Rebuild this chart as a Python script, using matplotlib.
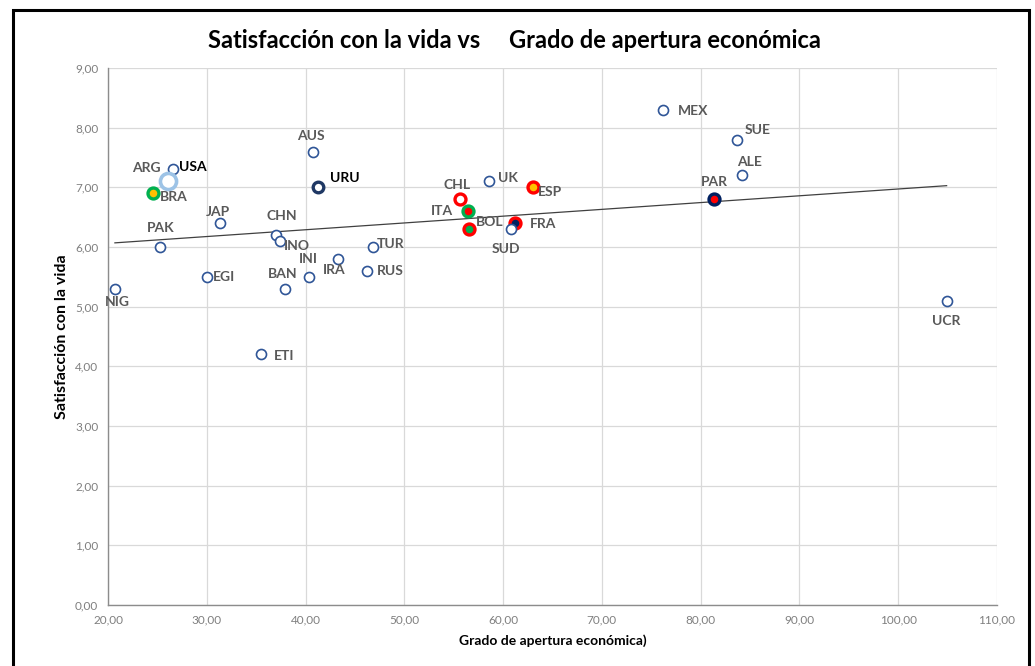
import matplotlib
matplotlib.use("Agg")
import matplotlib.pyplot as plt
from matplotlib.patches import Rectangle
from matplotlib.ticker import FuncFormatter, MultipleLocator
import numpy as np

# ---------------- data ----------------
countries = ["NIG", "PAK", "EGI", "JAP", "USA", "ARG", "BRA", "AUS", "URU", "CHN",
             "INO", "ETI", "BAN", "INI", "IRA", "TUR", "RUS", "CHL", "ITA", "BOL",
             "UK", "ESP", "FRA", "SUD", "MEX", "SUE", "ALE", "PAR", "UCR"]
apertura = [20.7, 25.3, 30.0, 31.3, 26.6, 26.1, 24.6, 40.8, 41.3, 37.0,
            37.4, 35.5, 37.9, 40.3, 43.3, 46.8, 46.2, 55.6, 56.4, 56.5,
            58.6, 63.0, 61.2, 60.8, 76.2, 83.7, 84.2, 81.3, 104.9]
satisfaccion = [5.3, 6.0, 5.5, 6.4, 7.3, 7.1, 6.9, 7.6, 7.0, 6.2,
                6.1, 4.2, 5.3, 5.5, 5.8, 6.0, 5.6, 6.8, 6.6, 6.3,
                7.1, 7.0, 6.4, 6.3, 8.3, 7.8, 7.2, 6.8, 5.1]

title = "Satisfacción con la vida vs     Grado de apertura económica"
xlabel = "Grado de apertura económica)"
ylabel = "Satisfacción con la vida"

# ---------------- styles ----------------
BLUE = "#2f5597"
default_style = dict(s=52, facecolor="white", edgecolor=BLUE, linewidth=1.2)
special_style = {
    "ARG": dict(s=135, facecolor="white", edgecolor="#9dc3e6", linewidth=2.6),
    "BRA": dict(s=62, facecolor="#ffc000", edgecolor="#00b050", linewidth=2.4),
    "URU": dict(s=58, facecolor="white", edgecolor="#1f3864", linewidth=2.4),
    "CHL": dict(s=62, facecolor="white", edgecolor="#ff0000", linewidth=2.4),
    "ITA": dict(s=62, facecolor="#ff0000", edgecolor="#00b050", linewidth=2.4),
    "BOL": dict(s=62, facecolor="#00b050", edgecolor="#ff0000", linewidth=2.4),
    "ESP": dict(s=62, facecolor="#ffc000", edgecolor="#ff0000", linewidth=2.4),
    "FRA": dict(s=62, facecolor="#002060", edgecolor="#ff0000", linewidth=2.4),
    "PAR": dict(s=62, facecolor="#ff0000", edgecolor="#002060", linewidth=2.4),
}
# label offsets in pixels (dx, dy) and alignment
label_pos = {
    "NIG": (2, -13, "center"), "PAK": (0, 19, "center"), "EGI": (6, 0, "left"),
    "JAP": (-2, 11, "center"), "USA": (6, 2, "left"), "ARG": (-22, 13, "center"),
    "BRA": (6, -4, "left"), "AUS": (-3, 16, "center"), "URU": (12, 9, "left"),
    "CHN": (6, 19, "center"), "INO": (4, -5, "left"), "ETI": (13, -2, "left"),
    "BAN": (-2, 15, "center"), "INI": (0, 18, "center"), "IRA": (-4, -11, "center"),
    "TUR": (4, 3, "left"), "RUS": (10, 0, "left"), "CHL": (-3, 14, "center"),
    "ITA": (-15, 0, "right"), "BOL": (7, 7, "left"), "UK": (9, 3, "left"),
    "ESP": (5, -5, "left"), "FRA": (15, -1, "left"), "SUD": (-5, -20, "center"),
    "MEX": (15, -1, "left"), "SUE": (7, 10, "left"), "ALE": (7, 13, "center"),
    "PAR": (1, 17, "center"), "UCR": (0, -20, "center"),
}
bold_black = {"USA", "URU"}

plt.rcParams["font.family"] = ["Lato", "DejaVu Sans"]

fig = plt.figure(figsize=(10.35, 6.66), dpi=100)
ax = fig.add_axes([108 / 1035, 1 - 605 / 666, (997 - 108) / 1035, (605 - 68) / 666])

# frame around chart
fig.patches.append(Rectangle((13 / 1035, -0.05), (1029 - 13) / 1035, 1.05 - 10 / 666,
                             transform=fig.transFigure, fill=False,
                             edgecolor="black", linewidth=2.2))

ax.set_xlim(20, 110)
ax.set_ylim(0, 9)
ax.xaxis.set_major_locator(MultipleLocator(10))
ax.yaxis.set_major_locator(MultipleLocator(1))
fmt = FuncFormatter(lambda v, p: f"{v:.2f}".replace(".", ","))
ax.xaxis.set_major_formatter(fmt)
ax.yaxis.set_major_formatter(fmt)
ax.grid(True, color="#d9d9d9", linewidth=0.9)
ax.set_axisbelow(True)
for s in ["top", "right"]:
    ax.spines[s].set_visible(False)
for s in ["left", "bottom"]:
    ax.spines[s].set_color("#8c8c8c")
    ax.spines[s].set_linewidth(1.0)
ax.tick_params(length=0, labelsize=8.5, labelcolor="#7f7f7f", pad=7)

# trendline
xa = np.array(apertura)
ya = np.array(satisfaccion)
m, b = np.polyfit(xa, ya, 1)
xl = np.array([xa.min(), xa.max()])
ax.plot(xl, m * xl + b, color="#404040", linewidth=0.9, zorder=2)

for c, x, y in zip(countries, apertura, satisfaccion):
    st = special_style.get(c, default_style)
    ax.scatter([x], [y], zorder=3, **st)
    dx, dy, ha = label_pos[c]
    color = "black" if c in bold_black else "#595959"
    ax.annotate(c, (x, y), xytext=(dx, dy), textcoords="offset pixels",
                ha=ha, va="center", fontsize=10, fontweight="bold", color=color,
                zorder=4)

ax.set_xlabel(xlabel, fontsize=10, fontweight="bold", labelpad=6)
ax.set_ylabel(ylabel, fontsize=11.5, fontweight="bold", labelpad=4)
fig.text(514 / 1035, 1 - 40 / 666, title, ha="center", va="center",
         fontsize=17, fontweight="bold")

fig.savefig("out.png", dpi=100)
